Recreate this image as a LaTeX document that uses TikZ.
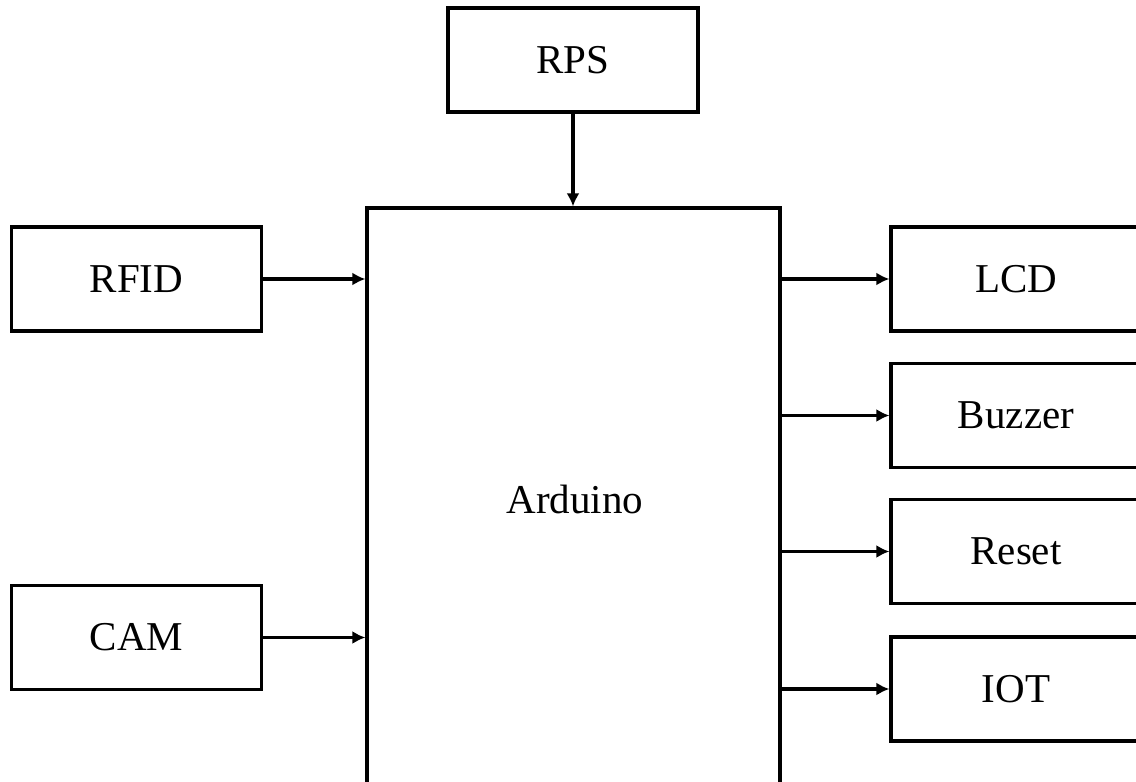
\documentclass[tikz,border=0pt]{standalone}
\usepackage{fontspec}
\setmainfont{Liberation Serif}
\usetikzlibrary{arrows.meta}
\begin{document}
\begin{tikzpicture}[x=1pt,y=-1pt,
  blk/.style={draw,line width=3.2pt,minimum width=250pt,minimum height=104pt,inner sep=0pt,
    font=\fontsize{41}{48}\selectfont},
  conn/.style={line width=3.2pt,-{Latex[length=13pt,width=13pt]}}]
\useasboundingbox (0,0) rectangle (1136,782);
\clip (0,0) rectangle (1136,782);
\node[blk] (rps) at (573,60) {RPS};
\node[blk,minimum width=413pt,minimum height=578pt] (ard) at (573.5,497) {};
\node[font=\fontsize{41}{48}\selectfont] (ardt) at (575,499) {Arduino};
\node[blk] (rfid) at (136.5,279) {RFID};
\node[blk] (cam) at (136.5,637.5) {CAM};
\node[blk] (lcd) at (1016,279) {LCD};
\node[blk] (buz) at (1016,415.5) {Buzzer};
\node[blk] (rst) at (1016,551.5) {Reset};
\node[blk] (iot) at (1016,689) {IOT};
\draw[conn] (rps.south) -- (rps.south |- ard.north);
\draw[conn] (rfid.east) -- (rfid.east -| ard.west);
\draw[conn] (cam.east) -- (cam.east -| ard.west);
\draw[conn] (lcd.west -| ard.east) -- (lcd.west);
\draw[conn] (buz.west -| ard.east) -- (buz.west);
\draw[conn] (rst.west -| ard.east) -- (rst.west);
\draw[conn] (iot.west -| ard.east) -- (iot.west);
\end{tikzpicture}
\end{document}
